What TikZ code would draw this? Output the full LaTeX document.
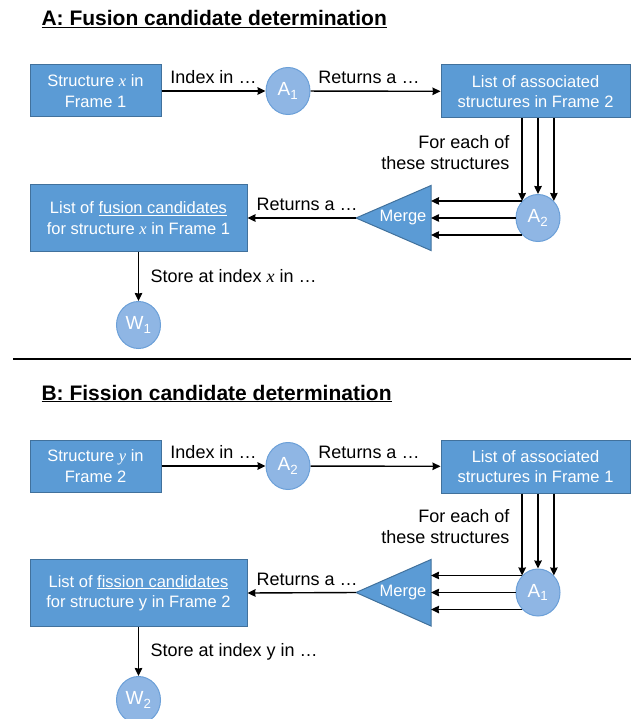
\documentclass[tikz,border=0pt]{standalone}
\usepackage{fontspec}
\setmainfont{Liberation Sans}
\newfontfamily\timesfam{Liberation Serif}
\usepackage{tikz}
\usetikzlibrary{shapes.geometric, arrows, arrows.meta}
\definecolor{boxblue}{RGB}{91,155,213}
\definecolor{boxedge}{RGB}{65,113,156}
\definecolor{circblue}{RGB}{143,182,228}
\definecolor{circedge}{RGB}{108,160,216}
\tikzstyle{arrow} = [line width=1.4pt,->,>={Stealth[length=8pt,width=7.5pt,inset=0.5pt]}]
\tikzstyle{bluebox} = [draw=boxedge, fill=boxblue, line width=1pt, text=white, align=center, inner sep=0pt, font=\fontsize{16.5}{20.5}\selectfont]
\tikzstyle{lookup} = [ellipse, draw=circedge, fill=circblue, line width=1pt, text=white, minimum width=44pt, minimum height=47pt, inner sep=0pt, font=\fontsize{19}{22}\selectfont]
\tikzstyle{mergetri} = [draw=boxedge, fill=boxblue, line width=1pt]
\tikzstyle{lbl} = [font=\fontsize{18}{21}\selectfont]
\tikzstyle{heading} = [anchor=base west, font=\bfseries\fontsize{21}{24}\selectfont]
\newcommand{\symx}{{\timesfam\itshape x}}
\newcommand{\symy}{{\timesfam\itshape y}}

\begin{document}
\begin{tikzpicture}[x=1pt,y=-1pt]
	\useasboundingbox (0,0) rectangle (631,719);
	% A: fusion
	\node[heading] (titleA) at (38,26) {\underline{A: Fusion candidate determination}};
	\node[bluebox, minimum width=131pt, minimum height=52pt] (strucA) at (95.5,91) {Structure \symx{} in\\Frame 1};
	\node[lookup] (aoneA) at (288,91) {A\textsubscript{1}};
	\node[bluebox, minimum width=189pt, minimum height=53pt] (assocA) at (535.5,91.5) {List of associated\\structures in Frame 2};
	\node[lookup] (atwoA) at (538,218) {A\textsubscript{2}};
	\draw[mergetri] (431,185.5) -- (431,250.5) -- (356,218) -- cycle;
	\coordinate (mergeinA) at (431,218);
	\coordinate (mergeoutA) at (356,218);
	\node[lbl, text=white, font=\fontsize{16.5}{20}\selectfont] (mergeA) at (403,218) {Merge};
	\node[bluebox, minimum width=217pt, minimum height=66pt] (candA) at (138.5,218) {List of \underline{fusion candidates}\\for structure \symx{} in Frame 1};
	\node[lookup] (woneA) at (138.5,325) {W\textsubscript{1}};
	\node[lbl, align=right, anchor=east] (eachA) at (513,152.5) {For each of\\these structures};
	\draw[arrow] (strucA) -- (aoneA) node[lbl, midway, above=3pt] {Index in \dots};
	\draw[arrow] (aoneA) -- (assocA) node[lbl, pos=0.45, above=3pt] {Returns a \dots};
	\foreach \a in {133,90,47}
		\draw[arrow] (atwoA.\a |- assocA.south) -- (atwoA.\a);
	\foreach \a in {133,180,227}
		\draw[arrow] (atwoA.\a) -- (atwoA.\a -| mergeinA);
	\draw[arrow] (mergeoutA) -- (candA.east) node[lbl, pos=0.45, above=3pt] {Returns a \dots};
	\draw[arrow] (candA) -- (woneA) node[lbl, midway, right=8pt] {Store at index \symx{} in \dots};

	\draw[line width=1.2pt] (13,359) -- (631,359);

	% B: fission
	\node[heading] (titleB) at (38,400) {\underline{B: Fission candidate determination}};
	\node[bluebox, minimum width=131pt, minimum height=52pt] (strucB) at (95.5,466) {Structure \symy{} in\\Frame 2};
	\node[lookup] (atwoB) at (288,466) {A\textsubscript{2}};
	\node[bluebox, minimum width=189pt, minimum height=53pt] (assocB) at (535.5,466.5) {List of associated\\structures in Frame 1};
	\node[lookup] (aoneB) at (538,592.5) {A\textsubscript{1}};
	\draw[mergetri] (431,559.5) -- (431,626) -- (356,592.5) -- cycle;
	\coordinate (mergeinB) at (431,592.5);
	\coordinate (mergeoutB) at (356,592.5);
	\node[lbl, text=white, font=\fontsize{16.5}{20}\selectfont] (mergeB) at (403,592.5) {Merge};
	\node[bluebox, minimum width=217pt, minimum height=67pt] (candB) at (138.5,593) {List of \underline{fission candidates}\\for structure y in Frame 2};
	\node[lookup] (wtwoB) at (138.5,700) {W\textsubscript{2}};
	\node[lbl, align=right, anchor=east] (eachB) at (513,527) {For each of\\these structures};
	\draw[arrow] (strucB) -- (atwoB) node[lbl, midway, above=3pt] {Index in \dots};
	\draw[arrow] (atwoB) -- (assocB) node[lbl, pos=0.45, above=3pt] {Returns a \dots};
	\foreach \a in {133,90,47}
		\draw[arrow] (aoneB.\a |- assocB.south) -- (aoneB.\a);
	\foreach \a in {133,180,227}
		\draw[arrow] (aoneB.\a) -- (aoneB.\a -| mergeinB);
	\draw[arrow] (mergeoutB) -- (candB.east) node[lbl, pos=0.45, above=3pt] {Returns a \dots};
	\draw[arrow] (candB) -- (wtwoB) node[lbl, midway, right=8pt] {Store at index y in \dots};
\end{tikzpicture}
\end{document}
